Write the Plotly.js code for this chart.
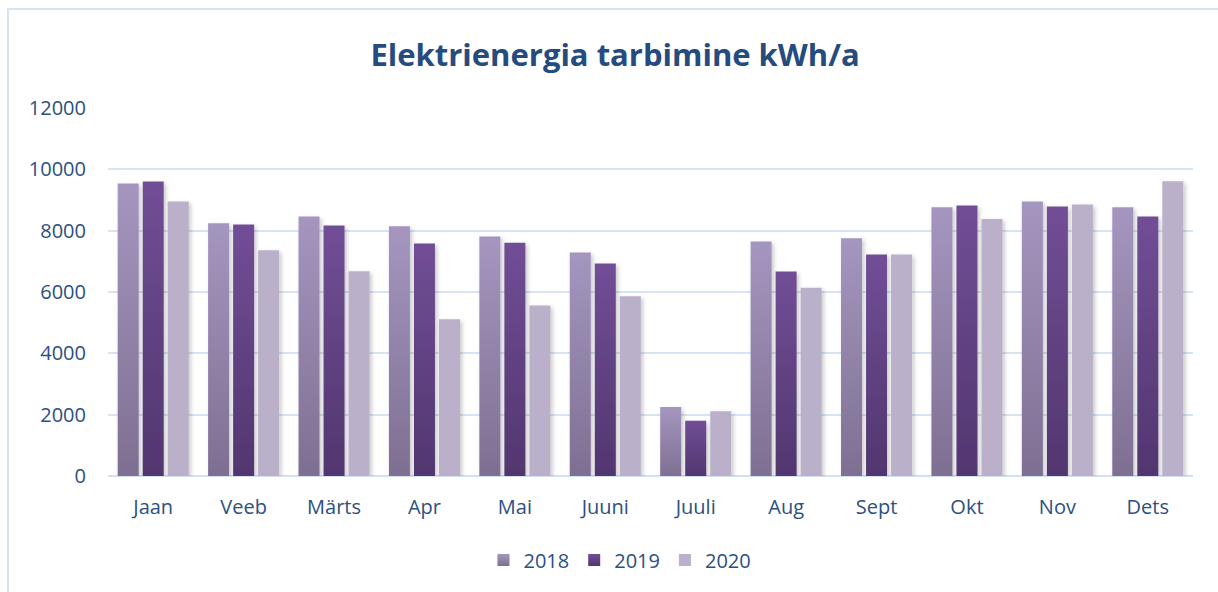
<!DOCTYPE html>
<html>
<head>
<meta charset="utf-8">
<script src="https://cdn.plot.ly/plotly-3.0.1.min.js"></script>
<style>
  html, body { margin: 0; padding: 0; background: #fff; }
  #frame { position: absolute; left: 7px; top: 8px; width: 1230px; height: 600px; border: 2px solid #d6e3f3; box-sizing: border-box; }
  #chart { position: absolute; left: 0; top: 0; width: 1218px; height: 592px; }
</style>
</head>
<body>
<div id="frame"></div>
<div id="chart"></div>
<script>
const months = ["Jaan", "Veeb", "Märts", "Apr", "Mai", "Juuni", "Juuli", "Aug", "Sept", "Okt", "Nov", "Dets"];
const years = ["2018", "2019", "2020"];
const values2018 = [9540, 8240, 8460, 8140, 7810, 7290, 2250, 7650, 7750, 8760, 8950, 8760];
const values2019 = [9600, 8200, 8170, 7580, 7610, 6930, 1800, 6670, 7220, 8820, 8790, 8460];
const values2020 = [8950, 7360, 6680, 5110, 5560, 5860, 2110, 6140, 7220, 8380, 8850, 9610];
const yTicks = [0, 2000, 4000, 6000, 8000, 10000, 12000];

const colors = ["#9a8ab3", "#62467f", "#bab0c9"];
const series = [values2018, values2019, values2020];

const traces = series.map((vals, i) => ({
  type: "bar",
  name: years[i],
  x: months,
  y: vals,
  marker: { color: colors[i], line: { width: 0 } },
  hoverinfo: "x+y+name"
}));

const textColor = "#2b5081";
const layout = {
  width: 1218,
  height: 592,
  paper_bgcolor: "rgba(0,0,0,0)",
  plot_bgcolor: "rgba(0,0,0,0)",
  margin: { l: 108, r: 25, t: 108, b: 116, autoexpand: false },
  title: {
    text: "<b>Elektrienergia tarbimine kWh/a</b>",
    font: { family: "Open Sans, sans-serif", size: 31, color: "#264b7e" },
    x: 0.505, xanchor: "center",
    y: 0.907, yanchor: "middle"
  },
  font: { family: "Open Sans, sans-serif", size: 20, color: textColor },
  barmode: "group",
  bargap: 0.17,
  bargroupgap: 0.16,
  xaxis: {
    showgrid: false,
    showline: false,
    zeroline: false,
    ticks: "",
    automargin: false,
    tickfont: { size: 20, color: textColor },
    ticklabelstandoff: 17
  },
  yaxis: {
    range: [0, 12000],
    tickvals: yTicks,
    ticktext: yTicks.map(String),
    automargin: false,
    showgrid: true,
    gridcolor: "#d7e4f5",
    gridwidth: 2,
    zeroline: true,
    zerolinecolor: "#d3e0f3",
    zerolinewidth: 2,
    showline: false,
    ticks: "",
    tickfont: { size: 20, color: textColor },
    ticklabelstandoff: 21
  },
  showlegend: true,
  legend: {
    orientation: "h",
    x: 0.509, xanchor: "center", xref: "container",
    y: 0.054, yanchor: "middle", yref: "container",
    font: { size: 20, color: textColor },
    itemwidth: 30,
    traceorder: "normal"
  }
};

const gradients = [
  ["#a596c0", "#7e6f92"],
  ["#714e96", "#51366f"],
  ["#bab0c9", "#bab0c9"]
];

function styleBars(gd) {
  const svg = gd.querySelector("svg.main-svg");
  if (!svg) return;
  const ns = "http://www.w3.org/2000/svg";
  let defs = svg.querySelector("defs");
  if (!defs) { defs = document.createElementNS(ns, "defs"); svg.insertBefore(defs, svg.firstChild); }
  gradients.forEach((g, i) => {
    if (defs.querySelector("#grad" + i)) return;
    const lg = document.createElementNS(ns, "linearGradient");
    lg.setAttribute("id", "grad" + i);
    lg.setAttribute("x1", "0"); lg.setAttribute("y1", "0");
    lg.setAttribute("x2", "0"); lg.setAttribute("y2", "1");
    [[0, g[0]], [1, g[1]]].forEach(([o, c]) => {
      const s = document.createElementNS(ns, "stop");
      s.setAttribute("offset", o);
      s.setAttribute("stop-color", c);
      lg.appendChild(s);
    });
    defs.appendChild(lg);
  });
  if (!defs.querySelector("#barshadow")) {
    const f = document.createElementNS(ns, "filter");
    f.setAttribute("id", "barshadow");
    f.setAttribute("x", "-30%"); f.setAttribute("y", "-5%");
    f.setAttribute("width", "160%"); f.setAttribute("height", "115%");
    const ds = document.createElementNS(ns, "feDropShadow");
    ds.setAttribute("dx", "2"); ds.setAttribute("dy", "2");
    ds.setAttribute("stdDeviation", "2");
    ds.setAttribute("flood-color", "#000");
    ds.setAttribute("flood-opacity", "0.22");
    f.appendChild(ds);
    defs.appendChild(f);
  }
  const traceGroups = gd.querySelectorAll(".barlayer .trace");
  traceGroups.forEach((tg, i) => {
    tg.querySelectorAll("path").forEach(p => {
      p.style.fill = "url(#grad" + i + ")";
      p.setAttribute("filter", "url(#barshadow)");
    });
  });
  const legendTraces = gd.querySelectorAll(".legend .traces");
  legendTraces.forEach((lt, i) => {
    lt.querySelectorAll(".legendpoints path").forEach(p => {
      p.style.fill = "url(#grad" + i + ")";
    });
  });
}

Plotly.newPlot("chart", traces, layout, { displayModeBar: false, responsive: false }).then(gd => {
  styleBars(gd);
  gd.on("plotly_afterplot", () => styleBars(gd));
});
</script>
</body>
</html>
